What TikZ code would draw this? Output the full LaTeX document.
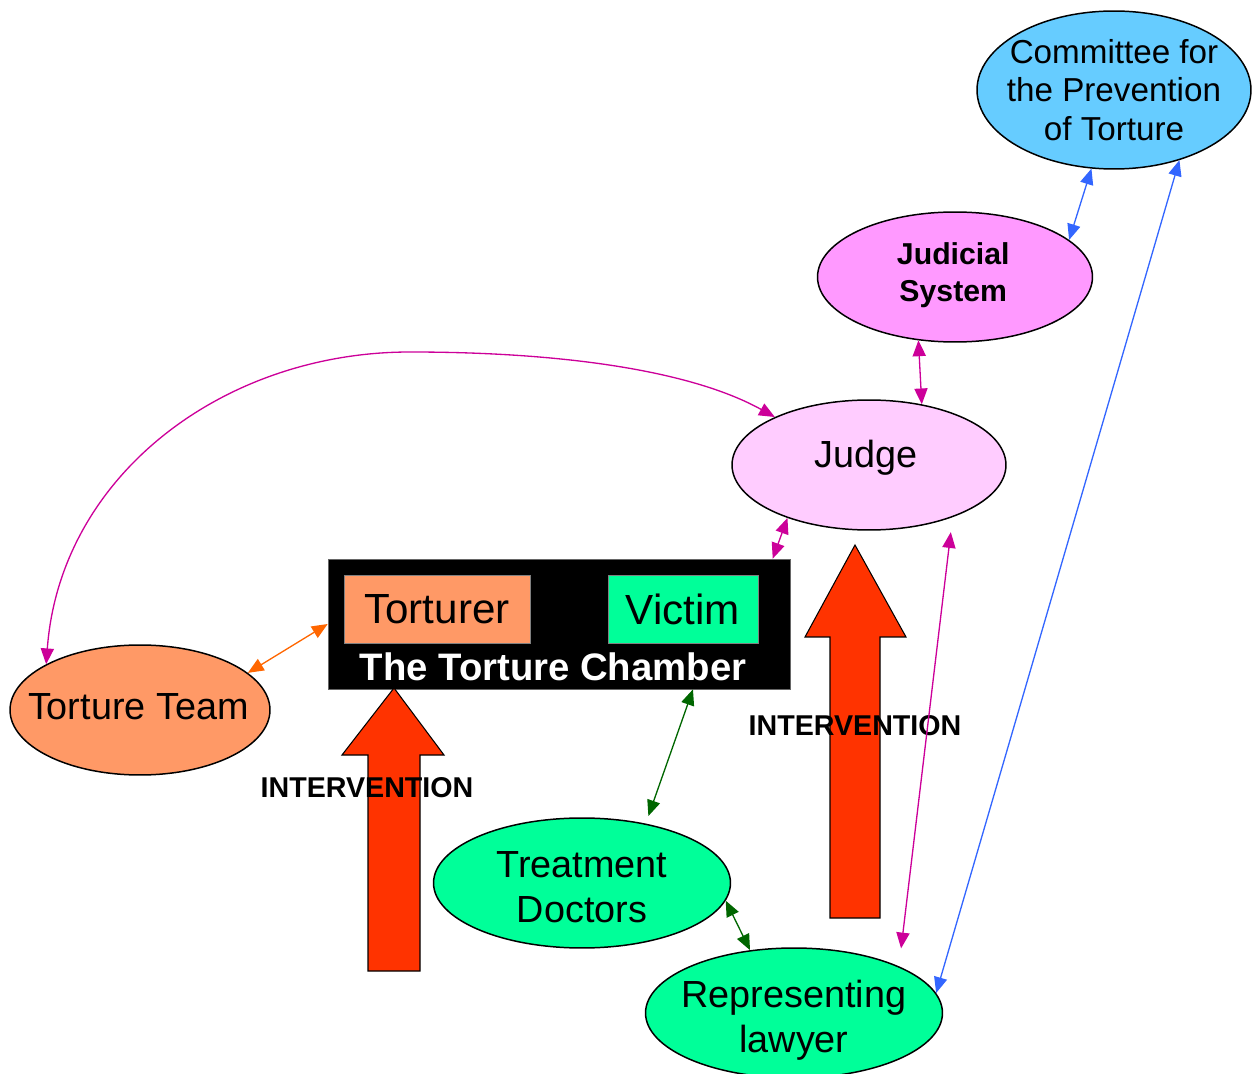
\documentclass[tikz,border=0pt]{standalone}
\usepackage{fontspec}
\setmainfont{Liberation Sans}
\usetikzlibrary{arrows.meta, positioning, calc, shapes.geometric}

\definecolor{cptblue}{HTML}{66CCFF}
\definecolor{judsys}{HTML}{FF99FF}
\definecolor{judgepink}{HTML}{FFCCFF}
\definecolor{tortorange}{HTML}{FF9966}
\definecolor{victgreen}{HTML}{00FF99}
\definecolor{interred}{HTML}{FF3300}
\definecolor{linkmag}{HTML}{CC0099}
\definecolor{linkblue}{HTML}{3366FF}
\definecolor{linkgreen}{HTML}{006600}
\definecolor{linkorange}{HTML}{FF6600}

\begin{document}
\begin{tikzpicture}[
        x=0.02cm, y=-0.02cm,
        >={Triangle[length=9pt, width=7.5pt]},
        party/.style={ellipse, draw=black, line width=0.85pt, inner sep=0pt,
            minimum height=2.6cm},
        partytext/.style={align=center, font=\fontsize{21.5}{25.5}\selectfont},
        link/.style={<->, line width=0.75pt},
        bigarrow/.style={fill=interred, draw=black, line width=0.6pt},
        interlabel/.style={font=\bfseries\fontsize{16.3}{19}\selectfont}
        ]
        \useasboundingbox (0,0) rectangle (1252,1074);

        % Parties
        \node[party, fill=cptblue, minimum width=5.48cm, minimum height=3.16cm,
            label={[partytext, font=\fontsize{18.9}{21.8}\selectfont]center:Committee for\\the Prevention\\of Torture}]
            (cpt) at (1114,90) {};
        \node[party, fill=judsys, minimum width=5.5cm,
            label={[partytext, font=\bfseries\fontsize{17.2}{21.5}\selectfont, xshift=-1pt, yshift=1pt]center:Judicial\\System}]
            (judsys) at (955,277) {};
        \node[party, fill=judgepink, minimum width=5.48cm,
            label={[partytext, yshift=4pt, xshift=-1.5pt]center:Judge}] (judge) at (869,465) {};
        \node[party, fill=tortorange, minimum width=5.2cm,
            label={[partytext, yshift=2pt, xshift=-1pt]center:Torture Team}] (team) at (140,710) {};
        \node[party, fill=victgreen, minimum width=5.94cm,
            label={[partytext, yshift=-2.5pt]center:Treatment\\Doctors}] (doctors) at (582,883) {};
        \node[party, fill=victgreen, minimum width=5.94cm,
            label={[partytext, yshift=-4pt]center:Representing\\lawyer}] (lawyer) at (794,1013) {};

        % The chamber
        \node[rectangle, fill=black, draw=black!60, line width=0.4pt,
            minimum width=9.24cm, minimum height=2.6cm] (chamber) at (559,624) {};
        \node[rectangle, fill=tortorange, draw=black!50, line width=0.4pt,
            minimum width=3.72cm, minimum height=1.36cm,
            font=\fontsize{24}{28}\selectfont] (torturer) at (437,609) {Torturer};
        \node[rectangle, fill=victgreen, draw=black!50, line width=0.4pt,
            minimum width=3cm, minimum height=1.36cm,
            font=\fontsize{24}{28}\selectfont] (victim) at (683,609) {Victim};
        \node[text=white, font=\bfseries\fontsize{21.8}{25}\selectfont] (title) at (553,667)
            {The Torture Chamber};

        % Interventions
        \draw[bigarrow] (368,971) -- (368,755) -- (342,755) -- (394,688)
            -- (444,755) -- (420,755) -- (420,971) -- cycle;
        \draw[bigarrow] (830,918) -- (830,637) -- (805,637) -- (855,545)
            -- (906,637) -- (880,637) -- (880,918) -- cycle;
        \node[interlabel] (inter1) at (367,788) {INTERVENTION};
        \node[interlabel] (inter2) at (855,726) {INTERVENTION};

        % Links
        \coordinate (bend) at (410,352);
        \draw[link, linkorange] (team.19.4) -- (chamber.west);
        \draw[link, linkmag] (team.154) .. controls (60,476) and (223,352) .. (bend)
            .. controls (560,352) and (690,370) .. (judge.153);
        \draw[link, linkmag] (judge.213.5) -- (chamber.17.7);
        \draw[link, linkmag] (judsys.240.9) -- (judge.49.8);
        \draw[link, linkmag, shorten <=0.3cm, shorten >=0.36cm] (judge.-32) -- (lawyer.24);
        \draw[link, linkblue] (cpt.254.9) -- (judsys.18.9);
        \draw[link, linkblue] (cpt.313.7) -- (lawyer.8.1);
        \draw[link, linkgreen, shorten >=0.16cm] (chamber.-26.7) -- (doctors.43.4);
        \draw[link, linkgreen] (doctors.-7.6) -- (lawyer.125.4);

\end{tikzpicture}
\end{document}
